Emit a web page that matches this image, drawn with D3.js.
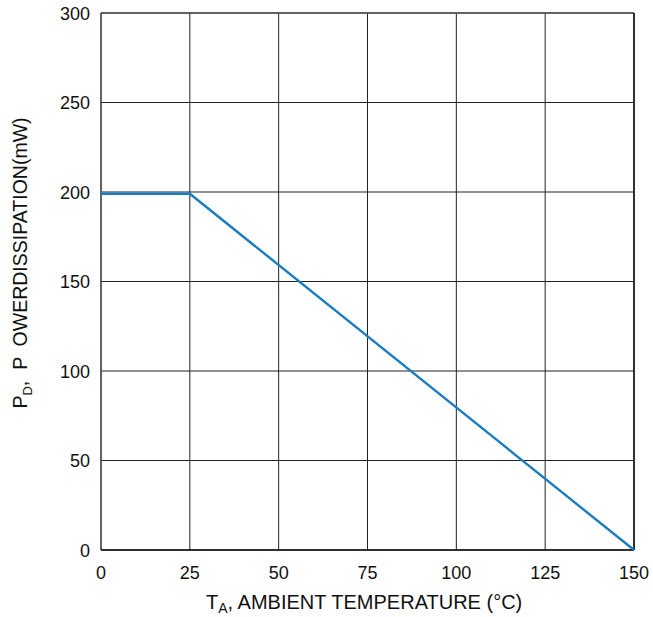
<!DOCTYPE html>
<html>
<head>
<meta charset="utf-8">
<script src="https://cdn.jsdelivr.net/npm/d3@7"></script>
<style>
  body { margin: 0; background: #fff; }
  text { font-family: "Liberation Sans", Arial, sans-serif; fill: #111; }
</style>
</head>
<body>
<div id="chart"></div>
<script>
// derating curve
const temps = [0, 25, 150];
const power = [199, 199, 0];
const xTicks = [0, 25, 50, 75, 100, 125, 150];
const yTicks = [0, 50, 100, 150, 200, 250, 300];

const width = 653, height = 617;
const margin = { top: 13, right: 19, bottom: 67, left: 101 };
const innerW = width - margin.left - margin.right;
const innerH = height - margin.top - margin.bottom;

const svg = d3.select("#chart").append("svg")
  .attr("width", width).attr("height", height);
const g = svg.append("g")
  .attr("transform", `translate(${margin.left},${margin.top})`);

const x = d3.scaleLinear().domain([0, 150]).range([0, innerW]);
const y = d3.scaleLinear().domain([0, 300]).range([innerH, 0]);

// grid
g.selectAll(".vgrid").data(xTicks).enter().append("line")
  .attr("x1", d => x(d)).attr("x2", d => x(d))
  .attr("y1", 0).attr("y2", innerH)
  .attr("stroke", "#222").attr("stroke-width", 1);
g.selectAll(".hgrid").data(yTicks).enter().append("line")
  .attr("x1", 0).attr("x2", innerW)
  .attr("y1", d => y(d)).attr("y2", d => y(d))
  .attr("stroke", "#222").attr("stroke-width", 1);

// frame
g.append("line").attr("x1", 0).attr("x2", innerW).attr("y1", 0).attr("y2", 0)
  .attr("stroke", "#555").attr("stroke-width", 1.5);
g.append("line").attr("x1", 0).attr("x2", 0).attr("y1", 0).attr("y2", innerH)
  .attr("stroke", "#555").attr("stroke-width", 1.5);
g.append("line").attr("x1", 0).attr("x2", innerW).attr("y1", innerH).attr("y2", innerH)
  .attr("stroke", "#111").attr("stroke-width", 1.5);
g.append("line").attr("x1", innerW).attr("x2", innerW).attr("y1", 0).attr("y2", innerH)
  .attr("stroke", "#111").attr("stroke-width", 1.5);

// curve
const pts = temps.map((t, i) => [t, power[i]]);
g.append("path")
  .datum(pts)
  .attr("d", d3.line().x(d => x(d[0])).y(d => y(d[1])))
  .attr("fill", "none")
  .attr("stroke", "#1a7cc1")
  .attr("stroke-width", 2.4);

// tick labels
g.selectAll(".xlab").data(xTicks).enter().append("text")
  .attr("x", d => x(d)).attr("y", innerH + 29)
  .attr("text-anchor", "middle")
  .style("font-size", "18px")
  .text(d => d);
g.selectAll(".ylab").data(yTicks).enter().append("text")
  .attr("x", -11).attr("y", d => y(d) + 6.5)
  .attr("text-anchor", "end")
  .style("font-size", "18px")
  .text(d => d);

// axis titles
const xt = svg.append("text")
  .attr("x", 206).attr("y", 609)
  .style("font-size", "20px");
xt.append("tspan").text("T");
xt.append("tspan").attr("dy", 4).style("font-size", "14px").text("A");
xt.append("tspan").attr("dy", -4).text(", AMBIENT TEMPERATURE (°C)");

const yt = svg.append("text")
  .attr("transform", `translate(27,263) rotate(-90)`)
  .attr("text-anchor", "middle")
  .style("font-size", "19.5px");
yt.append("tspan").text("P");
yt.append("tspan").attr("dy", 5).style("font-size", "13px").text("D");
yt.append("tspan").attr("dy", -5).attr("xml:space", "preserve").text(",  P  OWERDISSIPATION(mW)");
</script>
</body>
</html>
